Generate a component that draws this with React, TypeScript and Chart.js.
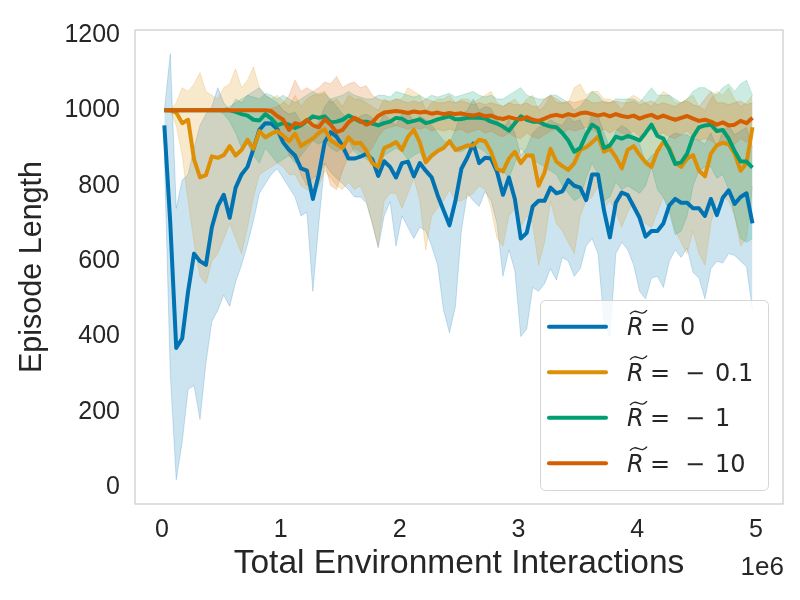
import { useEffect, useRef } from 'react'
import { Chart, ChartConfiguration, registerables } from 'chart.js'

Chart.register(...registerables)

// sample positions, in millions of environment interactions
const steps = [
  0.02, 0.07, 0.12, 0.17, 0.22, 0.27, 0.32, 0.37, 0.42, 0.47,
  0.52, 0.57, 0.62, 0.67, 0.72, 0.77, 0.82, 0.87, 0.92, 0.97,
  1.02, 1.07, 1.12, 1.17, 1.22, 1.27, 1.32, 1.37, 1.42, 1.47,
  1.52, 1.57, 1.62, 1.67, 1.72, 1.77, 1.82, 1.87, 1.92, 1.97,
  2.02, 2.07, 2.12, 2.17, 2.22, 2.27, 2.32, 2.37, 2.42, 2.47,
  2.52, 2.57, 2.62, 2.67, 2.72, 2.77, 2.82, 2.87, 2.92, 2.97,
  3.02, 3.07, 3.12, 3.17, 3.22, 3.27, 3.32, 3.37, 3.42, 3.47,
  3.52, 3.57, 3.62, 3.67, 3.72, 3.77, 3.82, 3.87, 3.92, 3.97,
  4.02, 4.07, 4.12, 4.17, 4.22, 4.27, 4.32, 4.37, 4.42, 4.47,
  4.52, 4.57, 4.62, 4.67, 4.72, 4.77, 4.82, 4.87, 4.92, 4.97,
]

// R = 0
const meanR0 = [
  960, 700, 370, 395, 520, 620, 600, 590, 690, 746,
  776, 715, 795, 830, 850, 898, 948, 966, 965, 950,
  915, 895, 880, 846, 840, 765, 830, 916, 942, 930,
  905, 872, 872, 877, 885, 870, 826, 865, 850, 822,
  860, 864, 825, 860, 840, 822, 775, 735, 695, 760,
  845, 875, 912, 860, 874, 872, 837, 776, 822, 765,
  660, 675, 745, 760, 760, 795, 780, 785, 815, 800,
  795, 762, 830, 830, 735, 663, 755, 782, 775, 745,
  715, 665, 680, 680, 700, 748, 765, 755, 755, 740,
  740, 720, 765, 722, 768, 788, 752, 770, 780, 700,
]
const lowR0 = [
  880, 300, 20, 120, 260, 270, 180, 330, 440, 470,
  510, 480, 545, 590, 645, 707, 780, 805, 830, 845,
  820, 795, 770, 720, 730, 520, 700, 860, 835, 820,
  805, 790, 770, 770, 755, 700, 635, 720, 758, 640,
  720, 690, 660, 690, 680, 640, 590, 470, 410, 480,
  680, 780, 760, 745, 785, 760, 700, 560, 630, 575,
  400, 420, 530, 520, 540, 580, 550, 610, 600, 560,
  580, 640, 660, 620, 440, 400, 620, 650, 630, 590,
  520, 500, 555, 560, 530, 600, 630, 610, 635, 570,
  555, 500, 580, 600, 595, 620, 615, 600, 585, 470,
]
const highR0 = [
  1000, 1150, 740, 815, 830, 900, 960, 990, 1010, 1060,
  1020, 1000, 1030, 1020, 1040, 1050, 1060, 1040, 1030, 1020,
  1000, 990, 995, 970, 960, 950, 970, 1010, 1030, 1010,
  990, 975, 975, 985, 990, 980, 960, 990, 975, 960,
  990, 995, 970, 985, 975, 960, 940, 920, 910, 950,
  990, 1000, 1030, 1000, 1010, 1005, 975, 950, 975, 940,
  880, 900, 940, 955, 960, 975, 965, 960, 985, 970,
  975, 940, 990, 985, 940, 900, 945, 960, 950, 930,
  910, 860, 880, 890, 900, 930, 940, 935, 935, 925,
  920, 910, 940, 900, 945, 960, 935, 945, 955, 900,
]

// R = -0.1
const meanR01 = [
  1000, 1000, 994, 966, 975, 870, 822, 828, 878, 874,
  881, 905, 880, 895, 922, 898, 945, 928, 938, 945,
  933, 918, 938, 905, 916, 925, 940, 950, 920, 910,
  900, 928, 912, 914, 893, 860, 850, 900, 907, 916,
  895, 930, 948, 915, 862, 880, 892, 900, 918, 895,
  900, 907, 907, 922, 918, 890, 845, 838, 872, 890,
  860, 880, 880, 800, 835, 898, 864, 852, 842, 860,
  895, 902, 915, 930, 890, 898, 876, 846, 895, 905,
  882, 862, 850, 892, 916, 900, 860, 850, 872, 881,
  840, 825, 885, 907, 914, 910, 885, 840, 860, 955,
]
const lowR01 = [
  1000, 1000, 960, 880, 760, 650, 560, 540, 600, 620,
  660, 700, 660, 620, 690, 770, 830, 840, 850, 860,
  850, 830, 830, 800, 790, 780, 800, 840, 820, 800,
  790, 810, 790, 800, 760, 700, 640, 760, 780, 780,
  740, 780, 820, 760, 630, 720, 740, 760, 790, 760,
  760, 770, 780, 800, 790, 740, 660, 640, 720, 740,
  690, 720, 700, 590, 650, 760, 700, 680, 650, 620,
  720, 760, 770, 800, 740, 760, 730, 690, 730, 760,
  720, 700, 690, 730, 770, 740, 680, 650, 620, 680,
  620, 590, 700, 760, 770, 760, 720, 640, 660, 800,
]
const highR01 = [
  1000, 1000, 1020, 1060, 1050, 1070, 1100, 1050, 1040, 1030,
  1060, 1070, 1110, 1060, 1080, 1115, 1060, 1040, 1030, 1040,
  1025, 1010, 1040, 1010, 1030, 1040, 1045, 1050, 1020, 1030,
  1010, 1040, 1030, 1030, 1020, 1010, 1000, 1030, 1020, 1030,
  1030, 1060, 1050, 1040, 1000, 1020, 1030, 1030, 1040, 1020,
  1030, 1030, 1020, 1030, 1040, 1050, 1020, 1010, 1020, 1030,
  1010, 1030, 1040, 1000, 1010, 1040, 1020, 1020, 1020, 1060,
  1070, 1040, 1050, 1050, 1030, 1030, 1020, 1000, 1030, 1040,
  1030, 1020, 1010, 1030, 1050, 1040, 1020, 1020, 1030, 1040,
  1010, 1000, 1030, 1050, 1040, 1060, 1030, 1010, 1020, 1040,
]

// R = -1
const meanR1 = [
  1000, 1000, 1000, 1000, 1000, 1000, 1000, 1000, 1000, 1000,
  1000, 1000, 996, 990, 986, 975, 973, 990, 978, 960,
  966, 962, 953, 960, 972, 984, 980, 984, 968, 970,
  975, 986, 978, 970, 970, 965, 960, 966, 970, 980,
  978, 968, 972, 976, 966, 970, 976, 980, 984, 976,
  977, 980, 981, 980, 978, 970, 965, 957, 946, 966,
  984, 975, 970, 970, 962, 957, 955, 940, 920, 890,
  900, 935, 962, 952, 900, 907, 930, 925, 932, 927,
  920, 940, 962, 932, 925, 895, 858, 862, 885, 930,
  955, 960, 962, 945, 948, 925, 892, 864, 864, 848,
]
const lowR1 = [
  1000, 1000, 1000, 1000, 1000, 1000, 1000, 1000, 1000, 1000,
  990, 970, 940, 900, 910, 880, 860, 900, 880, 860,
  870, 880, 860, 880, 900, 920, 910, 920, 900, 890,
  900, 920, 890, 880, 870, 860, 850, 880, 890, 900,
  890, 870, 880, 890, 860, 880, 900, 900, 910, 890,
  890, 900, 905, 900, 890, 870, 860, 840, 820, 860,
  900, 880, 870, 860, 850, 840, 830, 800, 780, 760,
  770, 820, 860, 830, 760, 770, 810, 790, 800, 790,
  780, 800, 850, 790, 770, 730, 670, 680, 720, 800,
  840, 850, 850, 820, 830, 790, 720, 660, 650, 660,
]
const highR1 = [
  1000, 1000, 1000, 1000, 1000, 1000, 1000, 1000, 1000, 1000,
  1005, 1010, 1020, 1030, 1040, 1035, 1030, 1045, 1040, 1030,
  1040, 1030, 1020, 1030, 1040, 1050, 1040, 1045, 1030, 1035,
  1040, 1050, 1040, 1035, 1030, 1030, 1040, 1040, 1035, 1050,
  1045, 1040, 1035, 1040, 1030, 1040, 1035, 1040, 1045, 1035,
  1040, 1045, 1050, 1040, 1035, 1040, 1030, 1030, 1040, 1050,
  1060, 1040, 1035, 1030, 1030, 1040, 1040, 1030, 1020, 1000,
  1010, 1030, 1050, 1040, 1020, 1020, 1030, 1030, 1030, 1030,
  1020, 1040, 1060, 1040, 1040, 1040, 1030, 1020, 1030, 1050,
  1060, 1060, 1050, 1040, 1060, 1070, 1050, 1070, 1080, 1040,
]

// R = -10
const meanR10 = [
  1000, 1000, 1000, 1000, 1000, 1000, 1000, 1000, 1000, 1000,
  1000, 1000, 1000, 1000, 1000, 1000, 1000, 1000, 998, 985,
  975, 948, 966, 962, 975, 960, 955, 976, 962, 942,
  948, 968, 980, 972, 962, 968, 985, 994, 996, 998,
  996, 993, 997, 994, 996, 991, 994, 990, 993, 990,
  992, 988, 986, 990, 984, 986, 980, 977, 982, 978,
  976, 982, 975, 972, 978, 985, 988, 984, 990, 986,
  992, 994, 990, 986, 990, 984, 990, 985, 982, 986,
  978, 984, 988, 980, 986, 980, 975, 980, 985, 978,
  972, 975, 970, 962, 968, 960, 962, 972, 966, 980,
]
const lowR10 = [
  1000, 1000, 1000, 1000, 1000, 1000, 1000, 1000, 1000, 1000,
  1000, 1000, 1000, 1000, 1000, 1000, 1000, 1000, 990, 960,
  930, 880, 870, 830, 800, 820, 830, 860, 800, 790,
  840, 880, 900, 890, 880, 900, 930, 950, 955, 960,
  955, 950, 955, 950, 955, 945, 950, 945, 950, 945,
  950, 940, 945, 950, 940, 945, 935, 930, 940, 930,
  925, 940, 930, 925, 935, 945, 950, 940, 950, 945,
  950, 955, 950, 940, 950, 940, 950, 940, 935, 945,
  930, 940, 950, 935, 940, 930, 925, 935, 945, 930,
  920, 925, 920, 910, 915, 905, 910, 925, 915, 940,
]
const highR10 = [
  1000, 1000, 1000, 1000, 1000, 1000, 1000, 1000, 1000, 1000,
  1000, 1000, 1000, 1000, 1000, 1000, 1000, 1000, 1005, 1010,
  1020, 1040, 1080, 1050, 1060, 1050, 1060, 1075, 1070, 1090,
  1060, 1070, 1075, 1060, 1065, 1040, 1030, 1025, 1025, 1030,
  1025, 1020, 1025, 1020, 1030, 1025, 1020, 1020, 1025, 1020,
  1025, 1020, 1015, 1020, 1015, 1020, 1015, 1010, 1020, 1015,
  1015, 1020, 1010, 1010, 1030, 1040, 1030, 1020, 1025, 1020,
  1025, 1030, 1020, 1020, 1025, 1020, 1025, 1020, 1020, 1025,
  1015, 1020, 1025, 1015, 1020, 1015, 1010, 1020, 1025, 1015,
  1010, 1030, 1050, 1020, 1020, 1015, 1020, 1025, 1015, 1020,
]

const xTicks = [0, 1, 2, 3, 4, 5]
const yTicks = [0, 200, 400, 600, 800, 1000, 1200]
const legendLabels = ['0', '−0.1', '−1', '−10']
const colors = ['#0173b2', '#de8f05', '#029e73', '#d55e00']

const FONT = "'Liberation Sans', Arial, sans-serif"
const MATH = "'DejaVu Sans', sans-serif"
const TEXT = '#262626'

const series = [
  { mean: meanR0, low: lowR0, high: highR0 },
  { mean: meanR01, low: lowR01, high: highR01 },
  { mean: meanR1, low: lowR1, high: highR1 },
  { mean: meanR10, low: lowR10, high: highR10 },
]

const toPoints = (vals: number[]) => steps.map((s, i) => ({ x: s * 1e6, y: vals[i] }))

const alpha = (hex: string, a: number) => {
  const n = parseInt(hex.slice(1), 16)
  return `rgba(${(n >> 16) & 255}, ${(n >> 8) & 255}, ${n & 255}, ${a})`
}

// frame, offset text and the mathtext legend
const decorations = {
  id: 'decorations',
  afterDraw(chart: Chart) {
    const { ctx, chartArea: a } = chart
    ctx.save()
    ctx.strokeStyle = '#cccccc'
    ctx.lineWidth = 1.25
    ctx.strokeRect(a.left, a.top, a.right - a.left, a.bottom - a.top)

    ctx.fillStyle = TEXT
    ctx.font = `26px ${FONT}`
    ctx.textAlign = 'right'
    ctx.textBaseline = 'alphabetic'
    ctx.fillText('1e6', a.right + 1, 575)

    // legend box
    ctx.beginPath()
    ctx.roundRect(540.5, 300.5, 228, 190, 5)
    ctx.fillStyle = 'rgba(255,255,255,0.8)'
    ctx.fill()
    ctx.strokeStyle = 'rgba(204,204,204,0.8)'
    ctx.lineWidth = 1
    ctx.stroke()

    legendLabels.forEach((label, i) => {
      const y = 326.7 + i * 45.5
      ctx.beginPath()
      ctx.strokeStyle = colors[i]
      ctx.lineWidth = 4
      ctx.lineCap = 'round'
      ctx.moveTo(549, y)
      ctx.lineTo(606, y)
      ctx.stroke()

      const base = y + 8.5
      ctx.fillStyle = TEXT
      ctx.textAlign = 'left'
      ctx.font = `italic 24px ${MATH}`
      ctx.fillText('R', 627, base)
      // wide tilde over R
      ctx.beginPath()
      ctx.strokeStyle = TEXT
      ctx.lineWidth = 1.4
      ctx.lineCap = 'butt'
      ctx.moveTo(630, base - 21)
      ctx.bezierCurveTo(636, base - 29, 641, base - 17, 647, base - 25)
      ctx.stroke()

      ctx.font = `24px ${MATH}`
      ctx.fillText('=', 650, base)
      if (label.startsWith('−')) {
        ctx.fillText('−', 685, base)
        ctx.fillText(label.slice(1), 715, base)
      } else {
        ctx.fillText(label, 680, base)
      }
    })
    ctx.restore()
  },
}

function buildConfig(): ChartConfiguration {
  const bands: any[] = []
  const lines: any[] = []
  series.forEach((s, i) => {
    bands.push({
      data: toPoints(s.low),
      borderColor: alpha(colors[i], 0.2),
      borderWidth: 1,
      backgroundColor: 'transparent',
      fill: false,
      pointRadius: 0,
      order: 10 - i,
    })
    bands.push({
      data: toPoints(s.high),
      borderColor: alpha(colors[i], 0.2),
      borderWidth: 1,
      backgroundColor: alpha(colors[i], 0.2),
      fill: '-1',
      pointRadius: 0,
      order: 10 - i,
    })
    lines.push({
      data: toPoints(s.mean),
      borderColor: colors[i],
      borderWidth: 4,
      borderJoinStyle: 'round',
      fill: false,
      pointRadius: 0,
      order: 4 - i,
    })
  })

  const tickFont = { family: FONT, size: 25 }

  return {
    type: 'line',
    data: { datasets: [...bands, ...lines] },
    options: {
      responsive: false,
      animation: false,
      devicePixelRatio: 1,
      layout: { padding: { top: 23, right: 17, left: 0, bottom: 0 } },
      plugins: { legend: { display: false }, tooltip: { enabled: false } },
      elements: { line: { tension: 0 } },
      scales: {
        x: {
          type: 'linear',
          min: -227000,
          max: 5227000,
          grid: { display: false, drawTicks: false },
          border: { display: false },
          afterBuildTicks: (scale: any) => {
            scale.ticks = xTicks.map((v) => ({ value: v * 1e6 }))
          },
          afterFit: (scale: any) => {
            scale.height = 96
          },
          ticks: {
            color: TEXT,
            font: tickFont,
            padding: 11,
            maxRotation: 0,
            callback: (v: any) => String(Number(v) / 1e6),
          },
          title: {
            display: true,
            text: 'Total Environment Interactions',
            color: TEXT,
            font: { family: FONT, size: 33.5 },
            padding: { top: 0, bottom: 16 },
          },
        },
        y: {
          type: 'linear',
          min: -44,
          max: 1213,
          grid: { display: false, drawTicks: false },
          border: { display: false },
          afterBuildTicks: (scale: any) => {
            scale.ticks = yTicks.map((v) => ({ value: v }))
          },
          afterFit: (scale: any) => {
            scale.width = 135
          },
          ticks: {
            color: TEXT,
            font: tickFont,
            padding: 15,
            callback: (v: any) => String(v),
          },
          title: {
            display: true,
            text: 'Episode Length',
            color: TEXT,
            font: { family: FONT, size: 30.5 },
            padding: { top: 14, bottom: 0 },
          },
        },
      },
    },
    plugins: [decorations],
  } as ChartConfiguration
}

export default function App() {
  const canvasRef = useRef<HTMLCanvasElement>(null)
  const chartRef = useRef<Chart | null>(null)

  useEffect(() => {
    document.body.style.margin = '0'
    const ctx = canvasRef.current?.getContext('2d')
    if (!ctx) return
    chartRef.current?.destroy()
    chartRef.current = new Chart(ctx, buildConfig())
    return () => {
      chartRef.current?.destroy()
      chartRef.current = null
    }
  }, [])

  return (
    <div style={{ width: 800, height: 600, background: '#fff' }}>
      <canvas ref={canvasRef} width={800} height={600} />
    </div>
  )
}
